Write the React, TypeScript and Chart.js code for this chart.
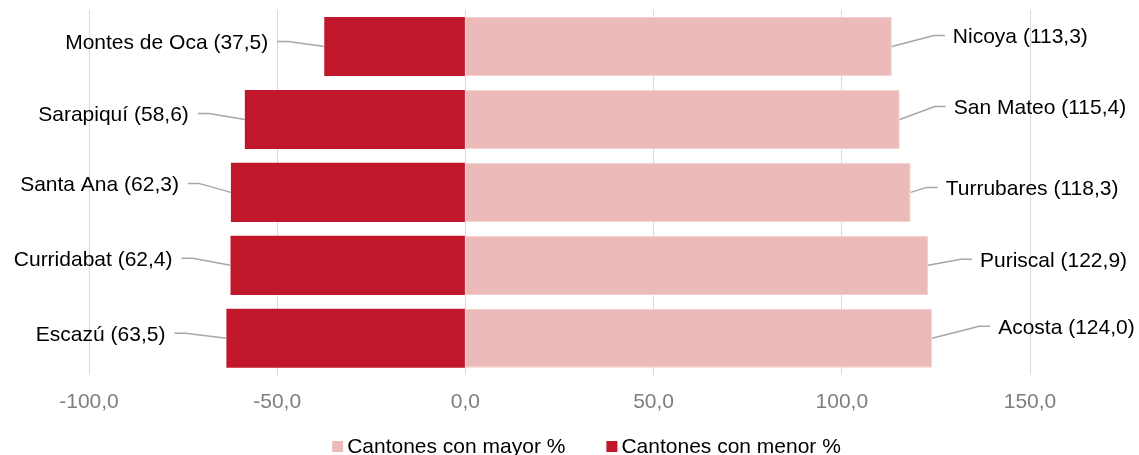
import React, { useEffect, useRef } from "react";
import { Chart, registerables } from "chart.js";

Chart.register(...registerables);

// ---- data ----
const rowKeys = ["1", "2", "3", "4", "5"];
const mayorNames = ["Nicoya", "San Mateo", "Turrubares", "Puriscal", "Acosta"];
const mayorValues = [113.3, 115.4, 118.3, 122.9, 124.0];
const menorNames = ["Montes de Oca", "Sarapiquí", "Santa Ana", "Curridabat", "Escazú"];
const menorValues = [37.5, 58.6, 62.3, 62.4, 63.5];
const seriesLabels = ["Cantones con mayor %", "Cantones con menor %"];
const xMin = -100;
const xMax = 150;
const xStep = 50;

// ---- leader-line layout (pixel offsets of the elbow from the bar end) ----
const rightElbowDx = [42, 35, 16, 33, 47];
const rightElbowDy = [-11, -13, -5, -6, -12];
const leftElbowDx = [-36, -36, -32, -38, -41];
const leftElbowDy = [-5, -6, -9, -7, -5];

const PINK = "#ecbab8";
const RED = "#c1172b";
const FONT = "'Liberation Sans', Arial, sans-serif";

const fmt = (v: number) => Math.abs(v).toFixed(1).replace(".", ",");
const fmtTick = (v: number) => v.toFixed(1).replace(".", ",");

const labelPlugin = {
  id: "leaderLabels",
  afterDatasetsDraw(chart: any) {
    const ctx = chart.ctx;
    ctx.save();
    ctx.font = `21px ${FONT}`;
    ctx.fillStyle = "#000";
    ctx.strokeStyle = "#a6a6a6";
    ctx.lineWidth = 1.5;
    ctx.textBaseline = "middle";
    const names = [mayorNames, menorNames];
    const vals = [mayorValues, menorValues];
    [0, 1].forEach((di) => {
      const meta = chart.getDatasetMeta(di);
      meta.data.forEach((el: any, i: number) => {
        const text = `${names[di][i]} (${fmt(vals[di][i])})`;
        const ex = el.x;
        const ey = el.y;
        if (di === 1) {
          const elbowX = ex + leftElbowDx[i];
          const elbowY = ey + leftElbowDy[i];
          const startX = elbowX - 11;
          ctx.beginPath();
          ctx.moveTo(startX, elbowY);
          ctx.lineTo(elbowX, elbowY);
          ctx.lineTo(ex, ey);
          ctx.stroke();
          ctx.textAlign = "right";
          ctx.fillText(text, startX - 9, elbowY + 2);
        } else {
          const elbowX = ex + rightElbowDx[i];
          const elbowY = ey + rightElbowDy[i];
          const startX = elbowX + 11;
          ctx.beginPath();
          ctx.moveTo(ex, ey);
          ctx.lineTo(elbowX, elbowY);
          ctx.lineTo(startX, elbowY);
          ctx.stroke();
          ctx.textAlign = "left";
          ctx.fillText(text, startX + 8, elbowY + 2);
        }
      });
    });
    ctx.restore();
  },
  afterDraw(chart: any) {
    // legend
    const ctx = chart.ctx;
    ctx.save();
    ctx.font = `21px ${FONT}`;
    ctx.textBaseline = "alphabetic";
    ctx.textAlign = "left";
    const box = 11;
    const gap = 4;
    const itemGap = 41;
    const ds = chart.data.datasets;
    const widths = ds.map((d: any) => box + gap + ctx.measureText(d.label).width);
    const total = widths.reduce((a: number, b: number) => a + b, 0) + itemGap * (ds.length - 1);
    let x = chart.width / 2 + 17 - total / 2;
    const baseline = 453;
    ds.forEach((d: any, i: number) => {
      ctx.fillStyle = d.backgroundColor;
      ctx.fillRect(x, baseline - 12, box, box);
      ctx.fillStyle = "#000";
      ctx.fillText(d.label, x + box + gap, baseline);
      x += widths[i] + itemGap;
    });
    ctx.restore();
  },
};

export default function App() {
  const ref = useRef<HTMLCanvasElement>(null);
  useEffect(() => {
    if (!ref.current) return;
    const chart = new Chart(ref.current, {
      type: "bar",
      data: {
        labels: rowKeys,
        datasets: [
          {
            label: seriesLabels[0],
            data: mayorValues,
            backgroundColor: PINK,
            borderColor: "#f3d3d2",
            borderWidth: 1,
            barPercentage: 0.81,
            categoryPercentage: 1,
          },
          {
            label: seriesLabels[1],
            data: menorValues.map((v) => -v),
            backgroundColor: RED,
            borderWidth: 0,
            barPercentage: 0.81,
            categoryPercentage: 1,
          },
        ],
      },
      options: {
        indexAxis: "y",
        responsive: false,
        animation: false,
        layout: { padding: { left: 89, right: 109, top: 10, bottom: 25 } },
        plugins: { legend: { display: false }, tooltip: { enabled: false } },
        scales: {
          x: {
            stacked: true,
            min: xMin,
            max: xMax,
            border: { display: false },
            grid: { color: "#d9d9d9", lineWidth: 1, drawTicks: false },
            ticks: {
              stepSize: xStep,
              padding: 15,
              color: "#7f7f7f",
              font: { family: FONT, size: 21 },
              callback: (v: any) => fmtTick(Number(v)),
            },
          },
          y: {
            stacked: true,
            display: false,
          },
        },
      },
      plugins: [labelPlugin],
    } as any);
    return () => chart.destroy();
  }, []);
  return (
    <div style={{ position: "fixed", left: 0, top: 0, width: 1139, height: 455, overflow: "hidden", background: "#fff" }}>
      <canvas ref={ref} width={1139} height={455} style={{ display: "block" }} />
    </div>
  );
}
